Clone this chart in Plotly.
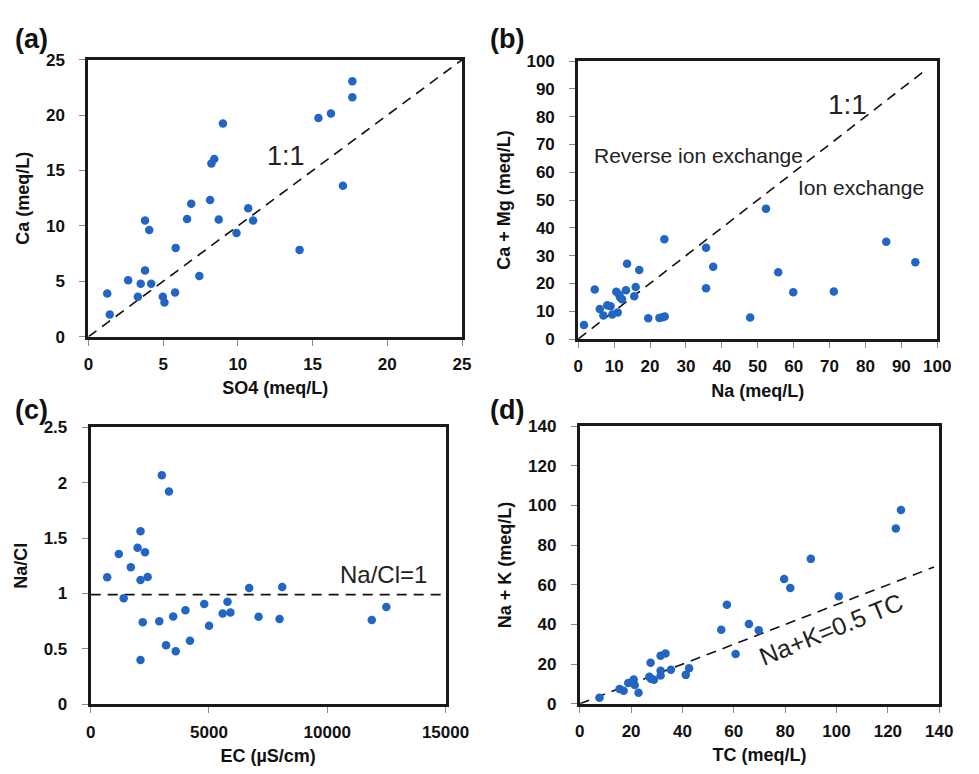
import plotly.graph_objects as go

# ---- data ----
so4 = [1.26, 1.43, 2.66, 3.31, 3.5, 3.79, 3.79, 4.07, 4.2, 4.98, 5.09, 5.8, 5.84, 6.6, 6.88,
       7.42, 8.14, 8.23, 8.42, 8.72, 9.0, 9.91, 10.69, 11.02, 14.13, 15.39, 16.23, 17.03, 17.66, 17.66]
ca = [3.9, 2.0, 5.11, 3.61, 4.79, 5.99, 10.5, 9.64, 4.79, 3.61, 3.08, 4.0, 8.02, 10.63, 12.0,
      5.49, 12.34, 15.63, 16.04, 10.58, 19.24, 9.37, 11.6, 10.49, 7.84, 19.74, 20.15, 13.63, 21.62, 23.06]

na_b = [1.6, 4.6, 6.0, 7.0, 8.1, 9.0, 9.5, 10.6, 11.0, 11.4, 11.7, 12.2, 13.3, 13.6, 15.6, 16.0,
        17.0, 19.5, 22.6, 23.4, 24.1, 24.0, 35.6, 35.6, 37.6, 47.9, 52.3, 55.7, 59.9, 71.2, 85.8, 93.9]
camg = [5.0, 17.8, 10.8, 8.5, 12.1, 11.8, 8.8, 17.0, 9.5, 15.9, 14.9, 14.3, 17.5, 27.1, 15.4, 18.7,
        24.8, 7.5, 7.6, 7.8, 8.1, 35.9, 32.8, 18.3, 26.0, 7.7, 46.9, 24.0, 16.8, 17.1, 35.0, 27.6]

ec = [697, 1190, 1395, 1696, 1983, 2106, 2106, 2106, 2201, 2297, 2407, 2899, 3008, 3186, 3309,
      3487, 3596, 4006, 4198, 4800, 5005, 5579, 5784, 5907, 6700, 7097, 7985, 8095, 11883, 12498]
nacl = [1.146, 1.357, 0.958, 1.237, 1.413, 1.563, 1.122, 0.40, 0.74, 1.372, 1.149, 0.749, 2.068, 0.532, 1.921,
        0.793, 0.479, 0.849, 0.573, 0.905, 0.708, 0.82, 0.925, 0.828, 1.049, 0.79, 0.77, 1.058, 0.761, 0.878]

tc = [7.7, 15.5, 17.1, 18.9, 21.0, 21.4, 22.9, 27.6, 27.1, 27.7, 28.9, 31.5, 31.5, 31.5, 33.4,
      35.5, 41.3, 42.6, 55.1, 57.3, 60.7, 65.9, 69.7, 79.6, 82.0, 90.0, 100.9, 123.1, 125.1]
nak = [3.1, 7.5, 6.6, 10.5, 12.3, 9.5, 5.6, 20.7, 13.6, 12.6, 12.1, 24.3, 16.7, 14.3, 25.4,
       17.2, 14.6, 18.0, 37.4, 50.0, 25.1, 40.3, 37.1, 63.0, 58.4, 73.1, 54.3, 88.4, 97.7]

line_a_x = [0, 25]
line_a_y = [0, 25]
line_b_x = [0, 97]
line_b_y = [0, 97]
line_c_x = [0, 15000]
line_c_y = [0.99, 0.99]
line_d_x = [0, 138]
line_d_y = [0, 69]

panel_labels = ["(a)", "(b)", "(c)", "(d)"]

BLUE = "#2166c2"
FONT = "Liberation Sans, Arial, sans-serif"

fig = go.Figure()

def scatter(x, y, xa, ya):
    fig.add_trace(go.Scatter(x=x, y=y, mode="markers", xaxis=xa, yaxis=ya,
                             marker=dict(color=BLUE, size=8.5, line=dict(width=0)),
                             showlegend=False, hoverinfo="skip"))

def dline(x, y, xa, ya):
    fig.add_trace(go.Scatter(x=x, y=y, mode="lines", xaxis=xa, yaxis=ya,
                             line=dict(color="#111111", width=1.6, dash="10px,7px"),
                             showlegend=False, hoverinfo="skip"))

dline(line_a_x, line_a_y, "x", "y")
scatter(so4, ca, "x", "y")
dline(line_b_x, line_b_y, "x2", "y2")
scatter(na_b, camg, "x2", "y2")
dline(line_c_x, line_c_y, "x3", "y3")
scatter(ec, nacl, "x3", "y3")
dline(line_d_x, line_d_y, "x4", "y4")
scatter(tc, nak, "x4", "y4")

def ax(domain, rng, dtick, title, anchor, is_x):
    return dict(domain=domain, range=rng, dtick=dtick, tick0=0, anchor=anchor,
                showgrid=False, zeroline=False, showline=True, mirror=True,
                linecolor="#1a1a1a", linewidth=3, ticks="outside", ticklen=6,
                tickcolor="#888888", tickwidth=1, tickformat="d" if dtick >= 1 else None,
                ticklabelstandoff=4 if is_x else 11,
                tickfont=dict(family=FONT, size=17, color="#111111", weight="bold"),
                title=dict(text=title, font=dict(family=FONT, size=18, color="#111111", weight="bold"),
                           standoff=9 if is_x else 12))

fig.update_layout(
    width=979, height=774, margin=dict(l=0, r=0, t=0, b=0),
    paper_bgcolor="white", plot_bgcolor="white",
    xaxis=ax([0.0878, 0.4811], [0, 25], 5, "SO4 (meq/L)", "y", True),
    yaxis=ax([0.5659, 0.9328], [0, 25], 5, "Ca (meq/L)", "x", False),
    xaxis2=ax([0.6034, 0.9813], [0, 100], 10, "Na (meq/L)", "y2", True),
    yaxis2=ax([0.5629, 0.9311], [0, 100], 10, "Ca + Mg (meq/L)", "x2", False),
    xaxis3=ax([0.0902, 0.4637], [0, 15000], 5000, "EC (µS/cm)", "y3", True),
    yaxis3=ax([0.0792, 0.4457], [0, 2.5], 0.5, "Na/Cl", "x3", False),
    xaxis4=ax([0.605, 0.9834], [0, 140], 20, "TC (meq/L)", "y4", True),
    yaxis4=ax([0.0797, 0.4474], [0, 140], 20, "Na + K (meq/L)", "x4", False),
)

anns = [
    dict(x=13.2, y=16.3, xref="x", yref="y", text="1:1", showarrow=False,
         font=dict(family=FONT, size=27, color="#222222")),
    dict(x=75, y=84.5, xref="x2", yref="y2", text="1:1", showarrow=False,
         font=dict(family=FONT, size=28, color="#222222")),
    dict(x=3.9, y=66, xref="x2", yref="y2", text="Reverse ion exchange", showarrow=False,
         xanchor="left", font=dict(family=FONT, size=21, color="#222222")),
    dict(x=97, y=54.5, xref="x2", yref="y2", text="Ion exchange", showarrow=False,
         xanchor="right", font=dict(family=FONT, size=21, color="#222222")),
    dict(x=10460, y=1.175, xref="x3", yref="y3", text="Na/Cl=1", showarrow=False,
         xanchor="left", font=dict(family=FONT, size=24, color="#222222")),
    dict(x=98, y=37.5, xref="x4", yref="y4", text="Na+K=0.5 TC", showarrow=False,
         textangle=-22, font=dict(family=FONT, size=25, color="#222222")),
]
label_pos = [(8, 31), (498, 31), (8, 411), (498, 411)]
for lab, (px, py) in zip(panel_labels, label_pos):
    anns.append(dict(x=px / 979, y=1 - py / 774, xref="paper", yref="paper", text=lab,
                     showarrow=False, xanchor="left", yanchor="middle",
                     font=dict(family=FONT, size=27, color="#111111", weight="bold")))
fig.update_layout(annotations=anns)

fig.write_html("out.html")
